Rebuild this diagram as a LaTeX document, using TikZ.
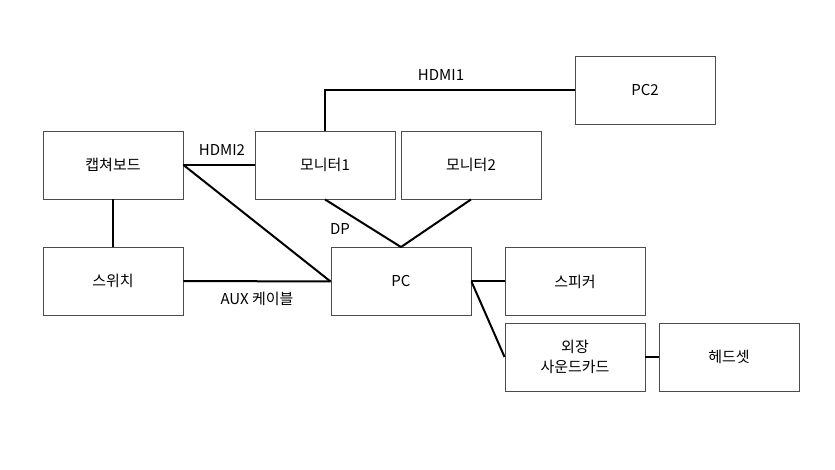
\documentclass[tikz,border=0pt]{standalone}
\usepackage{fontspec}
\setmainfont{Noto Sans CJK KR}
\begin{document}
\begin{tikzpicture}[x=1pt,y=-1pt,
  box/.style={draw=black!70,line width=0.9pt,minimum width=140pt,minimum height=68pt,inner sep=0pt,font=\fontsize{15}{20}\selectfont,align=center},
  wire/.style={line width=2pt,black},
  lbl/.style={font=\fontsize{15}{18}\selectfont,inner sep=0pt}]
\useasboundingbox (0,0) rectangle (835,470);
\node[box] (cap) at (113,165) {캡쳐보드};
\node[box] (sw) at (113,281) {스위치};
\node[box] (m1) at (325,165) {모니터1};
\node[box] (m2) at (471,165) {모니터2};
\node[box] (pc) at (401,281.5) {PC};
\node[box] (pc2) at (645,90) {PC2};
\node[box] (sp) at (575,281.5) {스피커};
\node[box] (sc) at (575,357) {외장\\사운드카드};
\node[box] (hs) at (729,357) {헤드셋};
\coordinate (hc) at (325,90);
\draw[wire] (m1.north) -- (hc) -- (pc2.west);
\draw[wire] (cap.east) -- (m1.west);
\draw[wire] (cap.east) -- (pc.west);
\draw[wire] (cap.south) -- (sw.north);
\draw[wire] (sw.east) -- (pc.west);
\draw[wire] (m1.south) -- (pc.north);
\draw[wire] (m2.south) -- (pc.north);
\draw[wire] (pc.east) -- (sp.west);
\draw[wire] (pc.east) -- (sc.west);
\draw[wire] (sc.east) -- (hs.west);
\node[lbl] (l1) at (441,75) {HDMI1};
\node[lbl] (l2) at (222,150) {HDMI2};
\node[lbl] (l3) at (340,229) {DP};
\node[lbl] (l4) at (257,299) {AUX 케이블};
\end{tikzpicture}
\end{document}
